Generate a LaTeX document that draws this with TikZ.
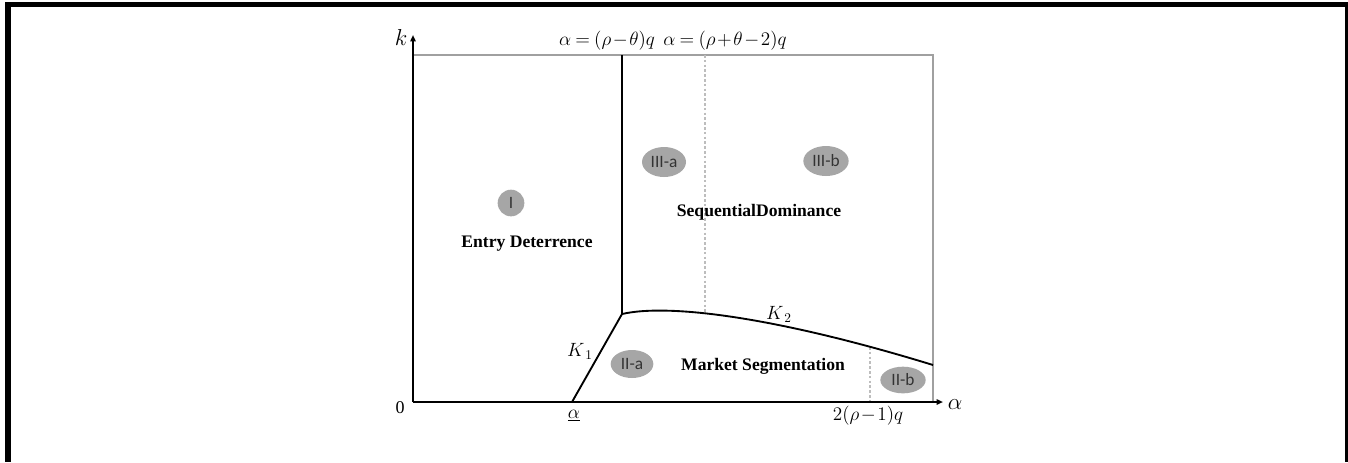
\documentclass[tikz,border=0pt]{standalone}
\usepackage{fontspec}
\setmainfont{Liberation Serif}
\newfontfamily\calib{Carlito}
\usetikzlibrary{shapes.geometric,arrows.meta}
\definecolor{ovalgray}{HTML}{A6A6A6}
\definecolor{ovaltext}{HTML}{333333}
\definecolor{framegray}{HTML}{A0A0A0}
\definecolor{dashgray}{HTML}{BDBDBD}
\newcommand\mytightmath{\medmuskip=1.5mu\relax\thickmuskip=4mu\relax}
\tikzset{
  axisline/.style={line width=1.5pt,-{Triangle[length=4.8pt,width=4pt]}},
  boundary/.style={line width=1.4pt},
  frameline/.style={line width=1.1pt,draw=framegray},
  dashline/.style={line width=0.8pt,draw=dashgray,dash pattern=on 2pt off 1.6pt},
  oval/.style={ellipse,fill=ovalgray,inner sep=0pt,text=ovaltext,font=\calib\fontsize{13}{15}\selectfont},
  region/.style={font=\bfseries\fontsize{13.2}{15}\selectfont},
  mlabel/.style={font=\fontsize{14}{16}\selectfont,inner sep=0pt},
  tightlabel/.style={font=\fontsize{14}{16}\selectfont\mytightmath,inner sep=0pt},
  biglabel/.style={font=\fontsize{16}{18}\selectfont,inner sep=0pt}
}
\begin{document}
\begin{tikzpicture}[x=0.75pt,y=-0.75pt]
\fill[white] (0,0) rectangle (1348,462);
\useasboundingbox (0,0) rectangle (1348,462);
% outer black frame
\fill[black] (5,2) rectangle (1348,7);
\fill[black] (5,2) rectangle (11,462);
\fill[black] (1345,2) rectangle (1348,462);

% coordinates
\coordinate (O) at (413,402);
\coordinate (Ytip) at (413,35);
\coordinate (Xtip) at (943,402);
\coordinate (TL) at (413,55);
\coordinate (TR) at (933,55);
\coordinate (BR) at (933,402);
\coordinate (Top1) at (622,55);
\coordinate (P) at (622,314);
\coordinate (A) at (572,402);
\coordinate (D1top) at (705,55);
\coordinate (D1bot) at (705,312);
\coordinate (K2end) at (933,365);
\coordinate (D2top) at (870,347);
\coordinate (D2bot) at (870,402);

% gray frame and dashed lines
\draw[frameline] (TL) -- (TR) -- (BR);
\draw[dashline] (D1top) -- (D1bot);
\draw[dashline] (D2top) -- (D2bot);

% boundaries
\draw[boundary] (Top1) -- (P);
\draw[boundary] (A) -- (P);
\draw[boundary] (P) .. controls (670,303) and (780,318) .. (K2end);

% axes
\draw[axisline] (O) -- (Ytip);
\draw[axisline] (O) -- (Xtip);

% axis labels
\node[biglabel] (klab) at (401,37) {$k$};
\node[biglabel] (alab) at (955,405) {$\alpha$};
\node[font=\fontsize{13.5}{15}\selectfont,inner sep=0pt] (zero) at (400,408) {0};
\node[mlabel] (aunder) at (574,416) {$\underline{\alpha}$};
\node[tightlabel] (tworho) at (868,416) {$2(\rho-1)q$};
\node[tightlabel] (top1) at (607,41) {$\alpha=(\rho-\theta)q$};
\node[tightlabel] (top2) at (725,41) {$\alpha=(\rho+\theta-2)q$};
\node[mlabel] (k1) at (580,351) {$K_{\,1}$};
\node[mlabel] (k2) at (779,314) {$K_{\,2}$};

% region texts
\node[region] (entry) at (527,244) {Entry Deterrence};
\node[region] (seq) at (759,212) {SequentialDominance};
\node[region] (mkt) at (763,366) {Market Segmentation};

% ovals
\node[oval,minimum width=20pt,minimum height=20pt] (r1) at (511,203) {I};
\node[oval,minimum width=33pt,minimum height=22.5pt] (r3a) at (664,162) {III-a};
\node[oval,minimum width=34pt,minimum height=22.5pt] (r3b) at (826,161) {III-b};
\node[oval,minimum width=32pt,minimum height=21pt] (r2a) at (632,364) {II-a};
\node[oval,minimum width=34pt,minimum height=20pt] (r2b) at (903,380) {II-b};
\end{tikzpicture}
\end{document}
